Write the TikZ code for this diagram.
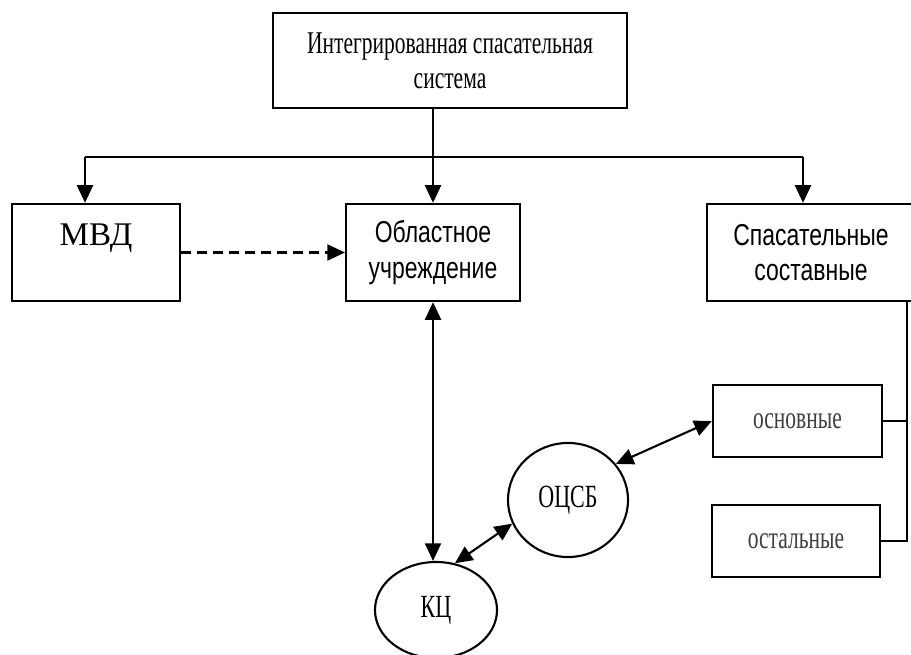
\documentclass[tikz,border=0pt]{standalone}
\usepackage{fontspec}
\setmainfont{Liberation Serif}
\newfontfamily\condserif[FakeStretch=0.68]{Liberation Serif}
\newfontfamily\condsans[FakeStretch=0.76]{Liberation Sans}
\definecolor{txtgray}{HTML}{3F3F3F}
\usetikzlibrary{arrows.meta, positioning, shapes.geometric}
\tikzset{
	bnode/.style={draw, line width=1.5pt, align=center, inner sep=2pt},
	enode/.style={draw, ellipse, line width=1.5pt, inner sep=0pt},
	arr/.style={-{Triangle[length=4.4mm,width=4mm]}, line width=1.5pt},
	darr/.style={{Triangle[length=4.4mm,width=4mm]}-{Triangle[length=4.4mm,width=4mm]}, line width=1.5pt},
	dasharr/.style={arr, dash pattern=on 2.4mm off 1.6mm},
	bline/.style={line width=1.5pt}
}

\begin{document}
\begin{tikzpicture}[x=0.025cm, y=-0.025cm]
	\clip (0,0) rectangle (911,655);
	\fill[white] (0,0) rectangle (911,655);
	% top level
	\node[bnode, minimum width=8.83cm, minimum height=2.38cm, font=\condserif\fontsize{22.5}{25}\selectfont] (iss) at (450,60.5) {Интегрированная спасательная\\система};
	% second row
	\node[bnode, minimum width=4.2cm, minimum height=2.43cm, text height=0.55cm, text depth=0.9cm, font=\fontsize{23.5}{28}\selectfont] (mvd) at (96,252.5) {МВД};
	\node[bnode, minimum width=4.35cm, minimum height=2.43cm, font=\condsans\fontsize{21.5}{25}\selectfont] (obl) at (433,252.5) {Областное\\учреждение};
	\node[bnode, minimum width=5.2cm, minimum height=2.43cm, font=\condsans\fontsize{21.5}{25}\selectfont] (spas) at (811,252.5) {Спасательные\\составные};
	% parts
	\node[bnode, minimum width=4.23cm, minimum height=1.8cm, text=txtgray, font=\condserif\fontsize{22.5}{25}\selectfont] (osn) at (797.5,421) {основные};
	\node[bnode, minimum width=4.2cm, minimum height=1.8cm, text=txtgray, font=\condserif\fontsize{22.5}{25}\selectfont] (ost) at (796,541) {остальные};
	% centres
	\node[enode, minimum width=3.0cm, minimum height=2.85cm, font=\condserif\fontsize{23}{26}\selectfont] (ocsb) at (568,500) {ОЦСБ};
	\node[enode, minimum width=3.05cm, minimum height=2.4cm, font=\condserif\fontsize{23}{26}\selectfont] (kc) at (436,610) {КЦ};
	% connectors
	\coordinate (busl) at (85,157);
	\coordinate (busr) at (803,157);
	\coordinate (rbus) at (907,302);
	\draw[bline] (busl) -- (busr);
	\draw[arr] (busl) -- (busl |- mvd.north);
	\draw[arr] (iss.south -| obl.north) -- (obl.north);
	\draw[arr] (busr) -- (busr |- spas.north);
	\draw[dasharr] (mvd) -- (obl);
	\draw[darr] (obl.south) -- (obl.south |- kc.north);
	\draw[darr] (ocsb.203) -- (kc.68);
	\draw[darr] (ocsb.37) -- (osn.west);
	\draw[bline] (rbus) -- (rbus |- ost.east) -- (ost.east);
	\draw[bline] (osn.east) -- (osn.east -| rbus);
\end{tikzpicture}
\end{document}
